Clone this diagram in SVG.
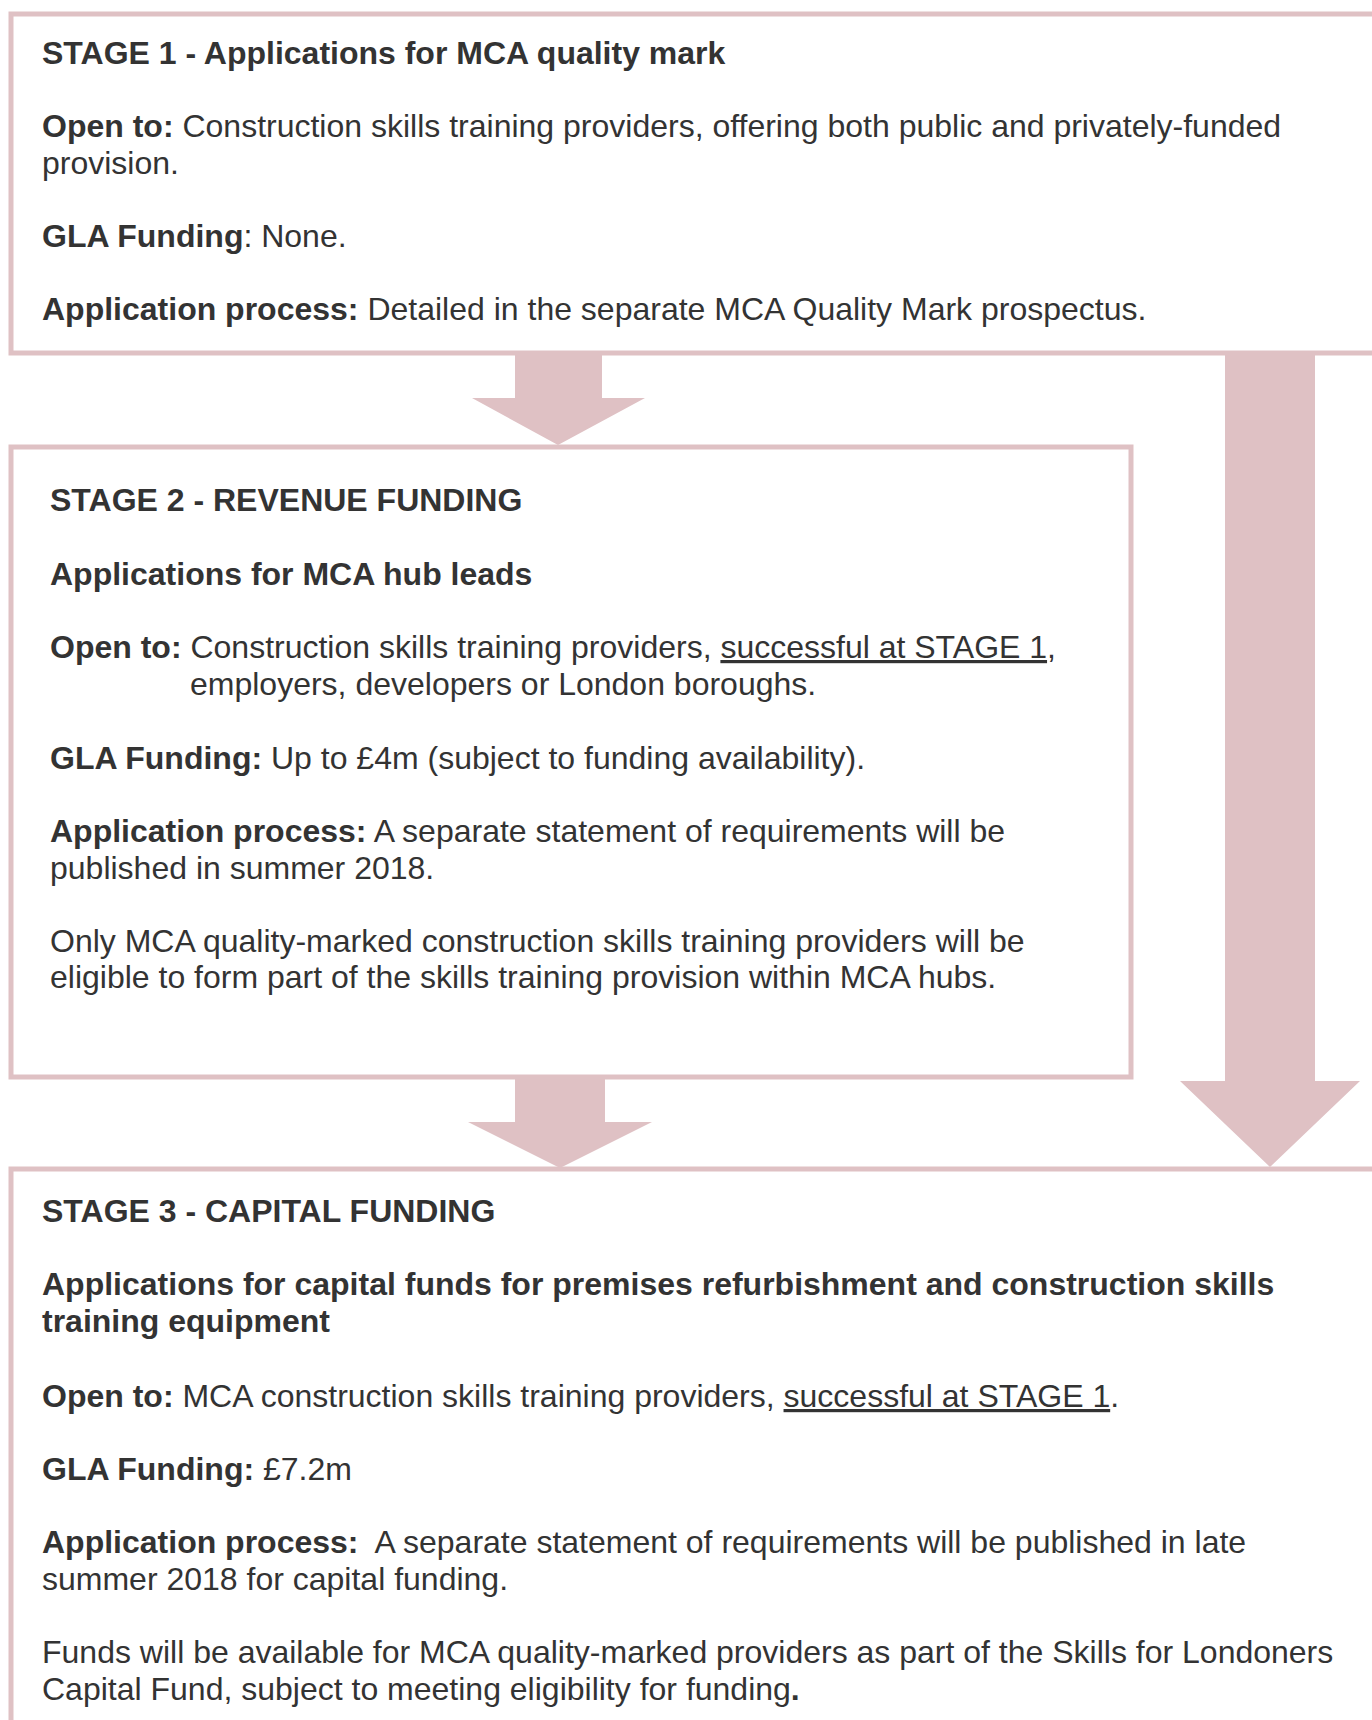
<svg xmlns="http://www.w3.org/2000/svg" width="1372" height="1720" viewBox="0 0 1372 1720">
  <style>
    .box { fill: #ffffff; stroke: #dfc1c4; stroke-width: 5; }
    .arrow { fill: #dfc1c4; }
    text { font-family: "Liberation Sans", Arial, sans-serif; font-size: 32px; fill: #333333; white-space: pre; }
    .b { font-weight: bold; }
    .u { text-decoration: underline; }
  </style>
  <rect width="1372" height="1720" fill="#ffffff"/>

  <!-- Stage 1 -->
  <g id="stage1">
    <rect class="box" x="11" y="14" width="1380" height="339"/>
    <text x="42" y="64" class="b">STAGE 1 - Applications for MCA quality mark</text>
    <text x="42" y="137"><tspan class="b">Open to:</tspan> Construction skills training providers, offering both public and privately-funded</text>
    <text x="42" y="174">provision.</text>
    <text x="42" y="247"><tspan class="b">GLA Funding</tspan>: None.</text>
    <text x="42" y="320"><tspan class="b">Application process:</tspan> Detailed in the separate MCA Quality Mark prospectus.</text>
  </g>

  <!-- Stage 2 -->
  <g id="stage2">
    <rect class="box" x="11" y="447" width="1120" height="630"/>
    <text x="50" y="511" class="b">STAGE 2 - REVENUE FUNDING</text>
    <text x="50" y="585" class="b">Applications for MCA hub leads</text>
    <text x="50" y="658"><tspan class="b">Open to:</tspan> Construction skills training providers, <tspan class="u">successful at STAGE 1</tspan>,</text>
    <text x="190" y="695">employers, developers or London boroughs.</text>
    <text x="50" y="769"><tspan class="b">GLA Funding:</tspan> Up to £4m (subject to funding availability).</text>
    <text x="50" y="842"><tspan class="b">Application process:</tspan> A separate statement of requirements will be</text>
    <text x="50" y="879">published in summer 2018.</text>
    <text x="50" y="952">Only MCA quality-marked construction skills training providers will be</text>
    <text x="50" y="988">eligible to form part of the skills training provision within MCA hubs.</text>
  </g>

  <!-- Stage 3 -->
  <g id="stage3">
    <rect class="box" x="11" y="1169" width="1380" height="570"/>
    <text x="42" y="1222" class="b">STAGE 3 - CAPITAL FUNDING</text>
    <text x="42" y="1295" class="b">Applications for capital funds for premises refurbishment and construction skills</text>
    <text x="42" y="1332" class="b">training equipment</text>
    <text x="42" y="1407"><tspan class="b">Open to:</tspan> MCA construction skills training providers, <tspan class="u">successful at STAGE 1</tspan>.</text>
    <text x="42" y="1480"><tspan class="b">GLA Funding:</tspan> £7.2m</text>
    <text x="42" y="1553"><tspan class="b">Application process:</tspan>  A separate statement of requirements will be published in late</text>
    <text x="42" y="1590">summer 2018 for capital funding.</text>
    <text x="42" y="1663">Funds will be available for MCA quality-marked providers as part of the Skills for Londoners</text>
    <text x="42" y="1700">Capital Fund, subject to meeting eligibility for funding<tspan class="b">.</tspan></text>
  </g>

  <!-- Block arrows between stages -->
  <g id="connectors">
    <polygon class="arrow" points="515,355 602,355 602,398 645,398 558,445 472,398 515,398"/>
    <polygon class="arrow" points="515,1079 605,1079 605,1122 652,1122 560,1168 468,1122 515,1122"/>
    <polygon class="arrow" points="1225,355 1315,355 1315,1081 1360,1081 1270,1167 1180,1081 1225,1081"/>
  </g>
</svg>
